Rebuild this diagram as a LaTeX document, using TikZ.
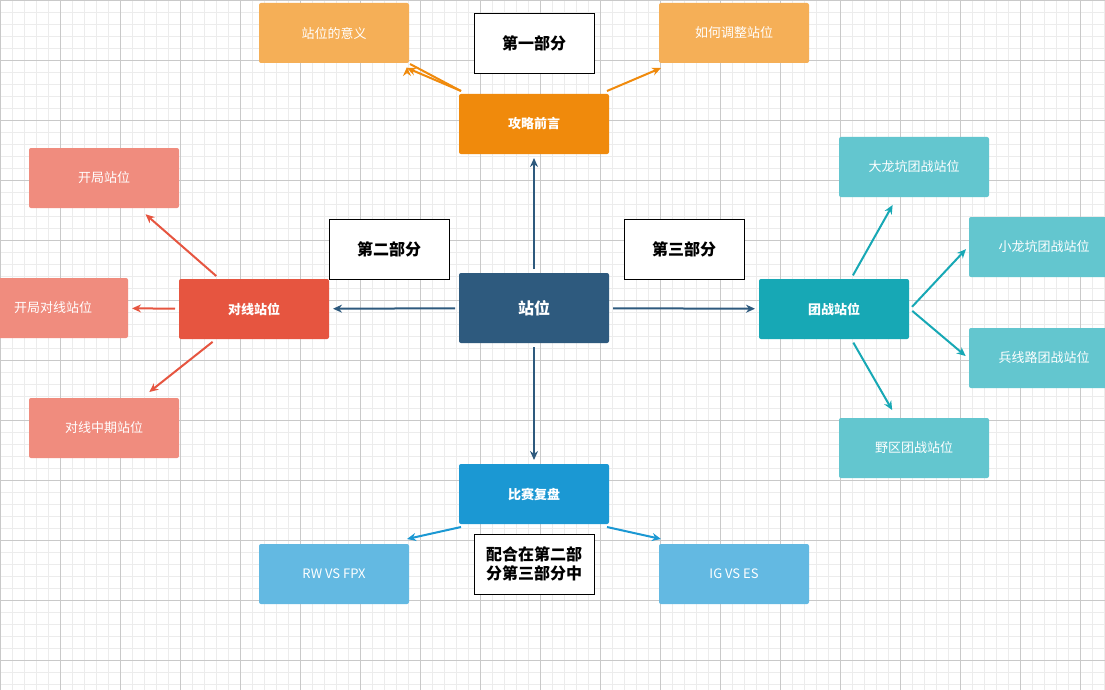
\documentclass[tikz,border=0pt]{standalone}
\usepackage{fontspec}
\setmainfont{Noto Sans CJK SC}
\usetikzlibrary{arrows.meta,positioning}
\definecolor{hubc}{HTML}{2E5A7E}
\definecolor{orangec}{HTML}{F08A0C}
\definecolor{orangel}{HTML}{F5AF57}
\definecolor{redc}{HTML}{E65540}
\definecolor{redl}{HTML}{F08C7E}
\definecolor{tealc}{HTML}{17A8B5}
\definecolor{teall}{HTML}{63C6CF}
\definecolor{bluec}{HTML}{1B98D3}
\definecolor{bluel}{HTML}{63B9E2}
\definecolor{gridc}{HTML}{ECECEC}
\begin{document}
\begin{tikzpicture}[x=1pt,y=-1pt,>={Stealth[length=9pt,width=8pt]},line width=2pt,
  box/.style={rounded corners=2pt,minimum width=150pt,minimum height=60pt,text=white,font=\fontsize{13}{15}\selectfont},
  main/.style={box,font=\fontsize{13}{15}\selectfont\bfseries},
  part/.style={draw=black,line width=0.8pt,fill=white,minimum width=120pt,minimum height=60pt,align=center,font=\fontsize{16}{19}\selectfont\bfseries}]
  \clip (0,0) rectangle (1105,690);
  \fill[white] (0,0) rectangle (1105,690);
  \draw[gridc,line width=0.5pt] (0,0) grid[step=12pt] (1105,690);
  \draw[gridc!85!black,line width=0.6pt] (0,0) grid[step=60pt] (1105,690);
  % center
  \node[main,fill=hubc,minimum height=70pt,font=\fontsize{16}{19}\selectfont\bfseries] (hub) at (534,308) {站位};
  % part one
  \node[main,fill=orangec] (intro) at (534,124) {攻略前言};
  \node[box,fill=orangel] (mean) at (334,33) {站位的意义};
  \node[box,fill=orangel] (adjust) at (734,33) {如何调整站位};
  \node[part] (p1) at (534,43) {第一部分};
  % part two
  \node[main,fill=redc] (lane) at (254,309) {对线站位};
  \node[box,fill=redl] (open) at (104,178) {开局站位};
  \node[box,fill=redl] (openlane) at (53,308) {开局对线站位};
  \node[box,fill=redl] (mid) at (104,428) {对线中期站位};
  \node[part] (p2) at (389,249) {第二部分};
  % part three
  \node[main,fill=tealc] (team) at (834,309) {团战站位};
  \node[box,fill=teall] (baron) at (914,167) {大龙坑团战站位};
  \node[box,fill=teall] (dragon) at (1044,247) {小龙坑团战站位};
  \node[box,fill=teall] (wave) at (1044,358) {兵线路团战站位};
  \node[box,fill=teall] (jungle) at (914,448) {野区团战站位};
  \node[part] (p3) at (684,249) {第三部分};
  % review
  \node[main,fill=bluec] (review) at (534,494) {比赛复盘};
  \node[box,fill=bluel] (rw) at (334,574) {RW VS FPX};
  \node[box,fill=bluel] (ig) at (734,574) {IG VS ES};
  \node[part] (p4) at (534,564) {配合在第二部\\分第三部分中};
  % arrows
  \draw[->,hubc,shorten >=3pt,shorten <=3pt] (hub) -- (intro);
  \draw[->,hubc,shorten >=3pt,shorten <=3pt] (hub) -- (lane);
  \draw[->,hubc,shorten >=3pt,shorten <=3pt] (hub) -- (team);
  \draw[->,hubc,shorten >=3pt,shorten <=3pt] (hub) -- (review);
  \draw[->,orangec] (intro.north west) ++(3,-2) coordinate (a1) (a1) -- (mean.south east) ++(-3,3);
  \draw[->,orangec] ([shift={(3,-2)}]intro.north west) -- ([shift={(-3,4)}]mean.south east);
  \draw[->,orangec] ([shift={(-3,-2)}]intro.north east) -- ([shift={(3,4)}]adjust.south west);
  \draw[->,redc,shorten >=8pt,shorten <=3pt] (lane) -- (open);
  \draw[->,redc,shorten >=3pt,shorten <=3pt] (lane) -- (openlane);
  \draw[->,redc,shorten >=8pt,shorten <=3pt] (lane) -- (mid);
  \draw[->,tealc,shorten >=8pt,shorten <=3pt] (team) -- (baron);
  \draw[->,tealc,shorten >=3pt,shorten <=3pt] (team.east) -- (dragon.west);
  \draw[->,tealc,shorten >=3pt,shorten <=3pt] (team.east) -- (wave.west);
  \draw[->,tealc,shorten >=8pt,shorten <=3pt] (team) -- (jungle);
  \draw[->,bluec] ([shift={(3,2)}]review.south west) -- ([shift={(-3,-4)}]rw.north east);
  \draw[->,bluec] ([shift={(-3,2)}]review.south east) -- ([shift={(3,-4)}]ig.north west);
\end{tikzpicture}
\end{document}
